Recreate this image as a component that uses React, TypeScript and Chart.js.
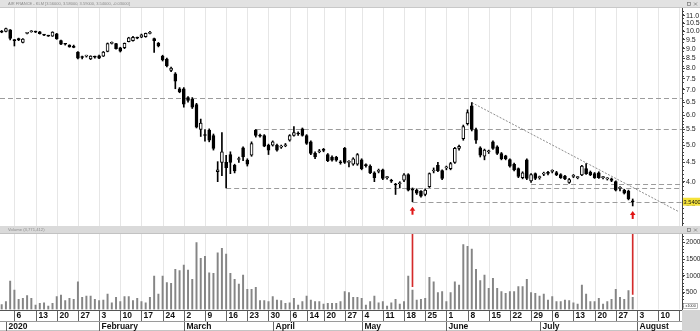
import React, { useEffect, useRef } from 'react';
import { Chart, registerables } from 'chart.js';

Chart.register(...registerables);
Chart.defaults.font.family = 'Liberation Sans';

// ---- data (index = trading day, 0 = 31 Dec 2019 ... 149 = 31 Jul 2020) ----
const opens = [
  10.02, 10.0, 10.1, 9.5, 9.58, 9.35, 9.88, 9.98, 9.98, 9.97,
  9.8, 9.74, 9.72, 9.85, 9.45, 9.27, 9.2, 9.08, 8.82, 8.55,
  8.6, 8.45, 8.57, 8.62, 8.6, 8.85, 9.3, 9.28, 9.05, 9.05,
  9.4, 9.45, 9.62, 9.65, 9.68, 9.88, 9.58, 9.3, 8.6, 8.45,
  7.88, 7.72, 7.05, 7.05, 6.68, 6.62, 6.4, 5.5, 5.32, 5.48,
  5.3, 4.25, 4.5, 4.5, 4.72, 4.42, 4.58, 4.92, 4.56, 4.7,
  5.48, 5.3, 5.3, 5.0, 5.0, 5.0, 4.94, 4.98, 5.15, 5.3,
  5.36, 5.52, 5.3, 5.1, 4.76, 4.8, 4.86, 4.72, 4.65, 4.64,
  4.5, 4.9, 4.5, 4.45, 4.45, 4.57, 4.42, 4.4, 4.22, 4.26,
  4.3, 4.1, 4.03, 3.93, 3.95, 4.04, 4.18, 3.82, 3.8, 3.77,
  3.7, 3.88, 4.27, 4.42, 4.28, 4.35, 4.33, 4.5, 4.9, 5.2,
  5.7, 6.35, 5.5, 4.92, 4.67, 4.8, 5.1, 4.95, 4.75, 4.68,
  4.58, 4.45, 4.33, 4.1, 4.57, 4.02, 4.2, 4.1, 4.19, 4.22,
  4.26, 4.23, 4.18, 4.14, 3.98, 4.13, 4.1, 4.17, 4.33, 4.24,
  4.2, 4.22, 4.1, 4.07, 4.07, 4.0, 3.84, 3.8, 3.78, 3.56,
];
const highs = [
  10.06, 10.2, 10.12, 9.52, 9.6, 9.58, 9.95, 10.05, 10.02, 10.0,
  9.82, 9.77, 9.98, 9.88, 9.48, 9.3, 9.22, 9.2, 8.85, 8.6,
  8.65, 8.62, 8.6, 8.65, 8.85, 9.32, 9.38, 9.3, 9.08, 9.32,
  9.65, 9.7, 9.66, 9.84, 9.9, 10.0, 9.6, 9.35, 8.65, 8.5,
  8.05, 7.78, 7.1, 7.1, 6.72, 6.68, 6.45, 5.86, 5.5, 5.52,
  5.35, 4.52, 5.4, 4.7, 4.8, 4.45, 4.65, 4.95, 4.6, 5.1,
  5.5, 5.35, 5.33, 5.03, 5.13, 5.03, 5.0, 5.05, 5.33, 5.6,
  5.42, 5.55, 5.33, 5.13, 4.8, 4.87, 4.9, 4.75, 4.68, 4.67,
  4.55, 4.93, 4.55, 4.63, 4.75, 4.6, 4.46, 4.43, 4.25, 4.32,
  4.32, 4.13, 4.06, 3.96, 4.0, 4.2, 4.2, 3.85, 3.83, 3.79,
  3.83, 4.22, 4.35, 4.5, 4.3, 4.4, 4.5, 4.93, 5.0, 5.65,
  6.2, 6.48, 5.55, 4.95, 4.88, 4.85, 5.13, 4.98, 4.78, 4.7,
  4.6, 4.48, 4.35, 4.25, 4.6, 4.2, 4.22, 4.14, 4.24, 4.26,
  4.3, 4.26, 4.2, 4.16, 4.08, 4.18, 4.13, 4.42, 4.47, 4.27,
  4.23, 4.25, 4.13, 4.1, 4.09, 4.02, 3.88, 3.82, 3.8, 3.6,
];
const lows = [
  9.92, 9.97, 9.5, 9.15, 9.45, 9.32, 9.85, 9.95, 9.93, 9.84,
  9.74, 9.7, 9.7, 9.53, 9.22, 9.2, 9.08, 9.05, 8.45, 8.45,
  8.55, 8.42, 8.5, 8.47, 8.58, 8.83, 9.26, 8.97, 8.82, 9.0,
  9.38, 9.42, 9.56, 9.62, 9.65, 9.85, 8.8, 9.1, 8.35, 8.05,
  7.82, 7.05, 6.88, 6.3, 6.5, 6.25, 5.55, 5.27, 5.12, 5.1,
  4.85, 4.0, 4.15, 3.85, 4.2, 4.22, 4.5, 4.55, 4.4, 4.67,
  5.25, 5.25, 4.95, 4.72, 4.97, 4.82, 4.9, 4.95, 5.12, 5.28,
  5.3, 5.28, 5.02, 4.72, 4.6, 4.77, 4.8, 4.52, 4.53, 4.53,
  4.45, 4.47, 4.38, 4.42, 4.42, 4.3, 4.37, 4.2, 4.0, 4.22,
  4.05, 4.06, 3.98, 3.7, 3.85, 4.0, 3.78, 3.54, 3.7, 3.64,
  3.67, 3.86, 4.22, 4.25, 4.05, 4.3, 4.3, 4.47, 4.85, 5.15,
  5.65, 5.45, 5.05, 4.65, 4.57, 4.75, 4.87, 4.72, 4.57, 4.57,
  4.37, 4.27, 4.1, 4.07, 4.05, 3.98, 4.05, 4.06, 4.15, 4.17,
  4.22, 4.15, 4.08, 4.05, 3.96, 4.1, 4.07, 4.15, 4.18, 4.15,
  4.08, 4.08, 4.07, 4.04, 4.0, 3.78, 3.78, 3.71, 3.58, 3.45,
];
const closes = [
  9.96, 10.18, 9.58, 9.45, 9.5, 9.55, 9.9, 10.0, 9.96, 9.86,
  9.78, 9.72, 9.96, 9.55, 9.25, 9.25, 9.1, 9.07, 8.5, 8.53,
  8.62, 8.6, 8.55, 8.5, 8.82, 9.28, 9.32, 9.0, 8.87, 9.3,
  9.62, 9.65, 9.6, 9.8, 9.88, 9.9, 9.45, 9.15, 8.4, 8.1,
  8.0, 7.38, 6.92, 6.42, 6.57, 6.3, 5.58, 5.72, 5.3, 5.15,
  4.9, 4.3, 4.8, 4.36, 4.5, 4.27, 4.6, 4.65, 4.45, 5.05,
  5.3, 5.28, 4.97, 4.85, 5.1, 4.85, 4.96, 5.0, 5.3, 5.4,
  5.35, 5.3, 5.05, 4.75, 4.65, 4.83, 4.84, 4.55, 4.56, 4.56,
  4.49, 4.5, 4.5, 4.6, 4.72, 4.33, 4.41, 4.22, 4.1, 4.28,
  4.08, 4.1, 4.01, 3.92, 3.96, 4.17, 3.8, 3.8, 3.73, 3.66,
  3.8, 4.2, 4.29, 4.28, 4.08, 4.37, 4.47, 4.9, 4.96, 5.6,
  6.1, 5.5, 5.15, 4.7, 4.85, 4.81, 4.9, 4.75, 4.6, 4.6,
  4.4, 4.3, 4.13, 4.22, 4.08, 4.18, 4.08, 4.11, 4.2, 4.21,
  4.27, 4.17, 4.1, 4.07, 4.05, 4.14, 4.1, 4.4, 4.2, 4.17,
  4.1, 4.1, 4.1, 4.07, 4.03, 3.8, 3.85, 3.73, 3.6, 3.54,
];
// volume, thousands of shares
const volumes = [
  150, 232, 848, 580, 303, 333, 411, 333, 134, 184,
  202, 104, 184, 381, 431, 262, 333, 303, 827, 363,
  402, 402, 303, 262, 283, 461, 202, 363, 232, 381,
  381, 262, 333, 232, 202, 363, 997, 461, 997, 798,
  780, 1196, 1155, 1324, 1175, 899, 1988, 1524, 1580, 1095,
  1077, 1690, 1821, 1650, 1077, 899, 755, 1027, 601, 601,
  661, 262, 262, 232, 381, 283, 262, 184, 202, 333,
  134, 232, 402, 283, 232, 232, 164, 184, 184, 184,
  232, 530, 500, 363, 363, 333, 134, 232, 402, 202,
  232, 104, 202, 303, 164, 232, 997, 580, 283, 303,
  333, 958, 827, 500, 530, 232, 500, 827, 729, 1930,
  1880, 1800, 1196, 857, 1027, 630, 929, 630, 530, 482,
  530, 530, 679, 679, 899, 500, 482, 402, 461, 283,
  381, 232, 232, 283, 262, 202, 164, 729, 461, 232,
  232, 333, 164, 232, 303, 601, 363, 303, 560, 363,
];

const weekStartIdx = [3, 8, 13, 18, 23, 28, 33, 38, 43, 48, 53, 58, 63, 68, 72, 76, 81, 85, 90, 95, 100, 105, 110, 115, 120, 125, 130, 135, 140, 145, 150, 155, 160];
const weekStartLabels = ['6', '13', '20', '27', '3', '10', '17', '24', '2', '9', '16', '23', '30', '6', '14', '20', '27', '4', '11', '18', '25', '1', '8', '15', '22', '29', '6', '13', '20', '27', '3', '10', '17'];
const monthStartIdx = [1, 23, 43, 64, 85, 105, 127, 150];
const monthLabels = ['2020', 'February', 'March', 'April', 'May', 'June', 'July', 'August'];

const priceTicks = [3.5, 4.0, 4.5, 5.0, 5.5, 6.0, 6.5, 7.0, 7.5, 8.0, 8.5, 9.0, 9.5, 10.0, 10.5, 11.0];
const volumeTicks = [500, 1000, 1500, 2000];

// drawn support / resistance levels
const levelPrices = [6.65, 5.5, 3.85, 3.94, 3.54];
const levelStartIdx = [-0.4, 60, 53, 125, 97];
const trendIdx = [111, 159.7];
const trendPrices = [6.48, 3.34];
const arrowIdx = [97, 149];
const redLineIdx = [97, 149];
const redLineFrom = [680, 450];

const titleText = 'AIR FRANCE - KLM [3.56000, 3.58000, 3.59000, 3.54000, -0.03000]';
const volumeTitle = 'Volume (3,771,412)';
const lastPrice = 3.54;
const lastPriceLabel = '3.5400';

const X_MIN = -0.4;
const X_MAX = 160.64;
const PRICE_MIN = 3.053;
const PRICE_MAX = 11.535;
const VOL_MAX = 2247;
const AXIS_W = 18;

function line(ctx: CanvasRenderingContext2D, x1: number, y1: number, x2: number, y2: number) {
  ctx.beginPath();
  ctx.moveTo(x1, y1);
  ctx.lineTo(x2, y2);
  ctx.stroke();
}

function drawIcons(ctx: CanvasRenderingContext2D, cy: number) {
  ctx.strokeStyle = '#777';
  ctx.lineWidth = 0.7;
  ctx.strokeRect(687.5, cy - 1.5, 3, 3);
  line(ctx, 694, cy - 1.5, 697, cy + 1.5);
  line(ctx, 697, cy - 1.5, 694, cy + 1.5);
}

const pricePlugin = {
  id: 'pricePanel',
  beforeDraw(chart: any) {
    const ctx: CanvasRenderingContext2D = chart.ctx;
    ctx.save();
    ctx.fillStyle = '#ffffff';
    ctx.fillRect(0, 0, chart.width, chart.height);
    ctx.fillStyle = '#e2e2e2';
    ctx.fillRect(0, 0, chart.width, 8);
    ctx.fillStyle = '#c8c8c8';
    ctx.fillRect(0, 7, chart.width, 1);
    ctx.fillStyle = '#8a8a8a';
    ctx.font = '4px Liberation Sans';
    ctx.textBaseline = 'middle';
    ctx.fillText(titleText, 8, 4);
    drawIcons(ctx, 4);
    ctx.restore();
  },
  beforeDatasetsDraw(chart: any) {
    const ctx: CanvasRenderingContext2D = chart.ctx;
    const xs = chart.scales.x;
    const ys = chart.scales.y;
    const a = chart.chartArea;
    ctx.save();
    ctx.strokeStyle = '#e6e6e6';
    ctx.lineWidth = 1;
    weekStartIdx.forEach((i) => {
      const px = Math.round(xs.getPixelForValue(i)) + 0.5;
      if (px < a.right) line(ctx, px, a.top, px, a.bottom);
    });
    ctx.strokeStyle = '#9c9c9c';
    ctx.setLineDash([5, 3]);
    levelPrices.forEach((p, k) => {
      const py = Math.round(ys.getPixelForValue(p)) + 0.5;
      const x0 = Math.max(a.left, xs.getPixelForValue(levelStartIdx[k]));
      line(ctx, x0, py, a.right, py);
    });
    ctx.strokeStyle = '#707070';
    ctx.lineWidth = 0.8;
    ctx.setLineDash([2, 1.5]);
    line(
      ctx,
      xs.getPixelForValue(trendIdx[0]), ys.getPixelForValue(trendPrices[0]),
      xs.getPixelForValue(trendIdx[1]), ys.getPixelForValue(trendPrices[1])
    );
    ctx.restore();
  },
  afterDraw(chart: any) {
    const ctx: CanvasRenderingContext2D = chart.ctx;
    const xs = chart.scales.x;
    const ys = chart.scales.y;
    const a = chart.chartArea;
    ctx.save();
    // minor ticks
    ctx.strokeStyle = '#444';
    ctx.lineWidth = 1;
    for (let v = 3.1; v < 11.5; v += v < 6 ? 0.1 : 0.25) {
      const py = Math.round(ys.getPixelForValue(v)) + 0.5;
      if (py > a.top && py < a.bottom) line(ctx, a.right, py, a.right + 2, py);
    }
    // last price label
    const ly = ys.getPixelForValue(lastPrice);
    ctx.fillStyle = '#f5e23a';
    ctx.fillRect(a.right + 1, ly - 4, 17, 8);
    ctx.fillStyle = '#111';
    ctx.font = '5.6px Liberation Sans';
    ctx.textBaseline = 'middle';
    ctx.fillText(lastPriceLabel, a.right + 1.6, ly + 0.3);
    // red arrows
    ctx.fillStyle = '#e01414';
    arrowIdx.forEach((i) => {
      const px = xs.getPixelForValue(i);
      const top = ys.getPixelForValue(lows[i]) + 5;
      ctx.beginPath();
      ctx.moveTo(px, top);
      ctx.lineTo(px - 2.8, top + 4);
      ctx.lineTo(px + 2.8, top + 4);
      ctx.closePath();
      ctx.fill();
      ctx.fillRect(px - 1, top + 3.5, 2, 4.5);
    });
    ctx.restore();
  },
};

const volumePlugin = {
  id: 'volumePanel',
  beforeDraw(chart: any) {
    const ctx: CanvasRenderingContext2D = chart.ctx;
    ctx.save();
    ctx.fillStyle = '#ffffff';
    ctx.fillRect(0, 0, chart.width, chart.height);
    ctx.fillStyle = '#dadada';
    ctx.fillRect(0, 0, chart.width, 8);
    ctx.fillStyle = '#c2c2c2';
    ctx.fillRect(0, 7, chart.width, 1);
    ctx.fillStyle = '#8e8e8e';
    ctx.font = '4.2px Liberation Sans';
    ctx.textBaseline = 'middle';
    ctx.fillText(volumeTitle, 8, 4);
    drawIcons(ctx, 4);
    ctx.restore();
  },
  beforeDatasetsDraw(chart: any) {
    const ctx: CanvasRenderingContext2D = chart.ctx;
    const xs = chart.scales.x;
    const a = chart.chartArea;
    ctx.save();
    ctx.strokeStyle = '#e6e6e6';
    ctx.lineWidth = 1;
    weekStartIdx.forEach((i) => {
      const px = Math.round(xs.getPixelForValue(i)) + 0.5;
      if (px < a.right) line(ctx, px, a.top, px, a.bottom);
    });
    ctx.restore();
  },
  afterDraw(chart: any) {
    const ctx: CanvasRenderingContext2D = chart.ctx;
    const xs = chart.scales.x;
    const ys = chart.scales.y;
    const a = chart.chartArea;
    const H = chart.height;
    const axisY = Math.round(a.bottom);
    const midY = axisY + 11;
    ctx.save();
    // minor volume ticks
    ctx.strokeStyle = '#444';
    ctx.lineWidth = 1;
    for (let v = 100; v < VOL_MAX; v += 100) {
      const py = Math.round(ys.getPixelForValue(v)) + 0.5;
      line(ctx, a.right, py, a.right + 2, py);
    }
    // x1000 box
    ctx.fillStyle = '#fff';
    ctx.fillRect(a.right + 1.5, axisY - 6.5, 14, 5);
    ctx.strokeStyle = '#888';
    ctx.lineWidth = 0.6;
    ctx.strokeRect(a.right + 1.5, axisY - 6.5, 14, 5);
    ctx.fillStyle = '#333';
    ctx.font = '3.8px Liberation Sans';
    ctx.textBaseline = 'middle';
    ctx.fillText('x1000', a.right + 3.5, axisY - 4);
    // axis rows
    ctx.fillStyle = '#ffffff';
    ctx.fillRect(0, axisY, a.right, H - axisY);
    ctx.fillStyle = '#d4d4d4';
    ctx.fillRect(a.right, axisY, chart.width - a.right, H - axisY);
    ctx.strokeStyle = '#555';
    ctx.lineWidth = 1;
    line(ctx, 0, axisY + 0.5, a.right, axisY + 0.5);
    ctx.strokeStyle = '#9a9a9a';
    line(ctx, 0, midY + 0.5, a.right, midY + 0.5);
    ctx.strokeStyle = '#c4c4c4';
    line(ctx, 0, H - 0.5, a.right, H - 0.5);
    ctx.beginPath();
    ctx.rect(0, axisY, a.right, H - axisY);
    ctx.clip();
    ctx.fillStyle = '#111';
    ctx.font = 'bold 8.5px Liberation Sans';
    ctx.textBaseline = 'middle';
    ctx.strokeStyle = '#666';
    weekStartIdx.forEach((i, k) => {
      const px = Math.round(xs.getPixelForValue(i)) + 0.5;
      line(ctx, px, axisY + 1, px, midY);
      ctx.fillText(weekStartLabels[k], px + 2, axisY + 6);
    });
    monthStartIdx.forEach((i, k) => {
      const px = Math.round(xs.getPixelForValue(i)) + 0.5;
      line(ctx, px, midY + 1, px, H);
      ctx.fillText(monthLabels[k], px + 2, midY + 6);
    });
    ctx.restore();
  },
};

function xScale() {
  return { type: 'linear' as const, min: X_MIN, max: X_MAX, display: false, offset: false };
}

export default function App() {
  const priceRef = useRef<HTMLCanvasElement>(null);
  const volRef = useRef<HTMLCanvasElement>(null);

  useEffect(() => {
    document.body.style.margin = '0';
    const wickData = lows.map((l, i) => ({ x: i, y: [l, highs[i]] }));
    const bodyData = opens.map((o, i) => ({ x: i, y: [o, closes[i]] }));
    const volData = volumes.map((v, i) => ({ x: i, y: v }));
    const redData = redLineIdx.map((i, k) => ({ x: i, y: [redLineFrom[k], VOL_MAX] }));

    const priceChart = new Chart(priceRef.current as HTMLCanvasElement, {
      type: 'bar',
      data: {
        datasets: [
          {
            data: bodyData as any,
            backgroundColor: (c: any) => (closes[c.dataIndex] >= opens[c.dataIndex] ? '#ffffff' : '#000000'),
            borderColor: '#000000',
            borderWidth: 1,
            borderSkipped: false,
            barThickness: 3,
            minBarLength: 1,
            grouped: false,
            order: 0,
          } as any,
          {
            data: wickData as any,
            backgroundColor: '#000000',
            borderWidth: 0,
            barThickness: 1,
            grouped: false,
            order: 1,
          } as any,
        ],
      },
      options: {
        responsive: false,
        animation: false,
        events: [],
        layout: { padding: { top: 8, left: 0, right: 0, bottom: 0 } },
        plugins: { legend: { display: false }, tooltip: { enabled: false } },
        scales: {
          x: xScale(),
          y: {
            type: 'logarithmic',
            position: 'right',
            min: PRICE_MIN,
            max: PRICE_MAX,
            bounds: 'data',
            afterBuildTicks: (s: any) => {
              s.ticks = priceTicks.map((v) => ({ value: v }));
            },
            afterFit: (s: any) => {
              s.width = AXIS_W;
              s.paddingTop = 0;
              s.paddingBottom = 0;
            },
            ticks: {
              callback: (v: any) => Number(v).toFixed(1),
              font: { size: 7, family: 'Liberation Sans' },
              color: '#222',
              padding: 1,
              autoSkip: false,
              maxRotation: 0,
            },
            grid: { drawOnChartArea: false, drawTicks: true, tickLength: 3, color: '#444' },
            border: { display: true, color: '#444' },
          } as any,
        },
      },
      plugins: [pricePlugin],
    });

    const volChart = new Chart(volRef.current as HTMLCanvasElement, {
      type: 'bar',
      data: {
        datasets: [
          {
            data: redData as any,
            backgroundColor: '#d42a2a',
            borderWidth: 0,
            barThickness: 1,
            grouped: false,
            order: 0,
          } as any,
          {
            data: volData as any,
            backgroundColor: '#858585',
            borderWidth: 0,
            barThickness: 1.3,
            grouped: false,
            order: 1,
          } as any,
        ],
      },
      options: {
        responsive: false,
        animation: false,
        events: [],
        layout: { padding: { top: 8, left: 0, right: 0, bottom: 21.5 } },
        plugins: { legend: { display: false }, tooltip: { enabled: false } },
        scales: {
          x: xScale(),
          y: {
            type: 'linear',
            position: 'right',
            min: 0,
            max: VOL_MAX,
            bounds: 'data',
            afterBuildTicks: (s: any) => {
              s.ticks = volumeTicks.map((v) => ({ value: v }));
            },
            afterFit: (s: any) => {
              s.width = AXIS_W;
              s.paddingTop = 0;
              s.paddingBottom = 0;
            },
            ticks: {
              callback: (v: any) => String(v),
              font: { size: 6.5, family: 'Liberation Sans' },
              color: '#222',
              padding: 1,
              autoSkip: false,
              maxRotation: 0,
            },
            grid: { drawOnChartArea: false, drawTicks: true, tickLength: 3, color: '#444' },
            border: { display: true, color: '#444' },
          } as any,
        },
      },
      plugins: [volumePlugin],
    });

    return () => {
      priceChart.destroy();
      volChart.destroy();
    };
  }, []);

  return (
    <div style={{ position: 'fixed', left: 0, top: 0, width: 700, height: 331, background: '#fff' }}>
      <canvas ref={priceRef} width={700} height={226} style={{ position: 'absolute', left: 0, top: 0, width: 700, height: 226 }} />
      <canvas ref={volRef} width={700} height={105} style={{ position: 'absolute', left: 0, top: 226, width: 700, height: 105 }} />
    </div>
  );
}
